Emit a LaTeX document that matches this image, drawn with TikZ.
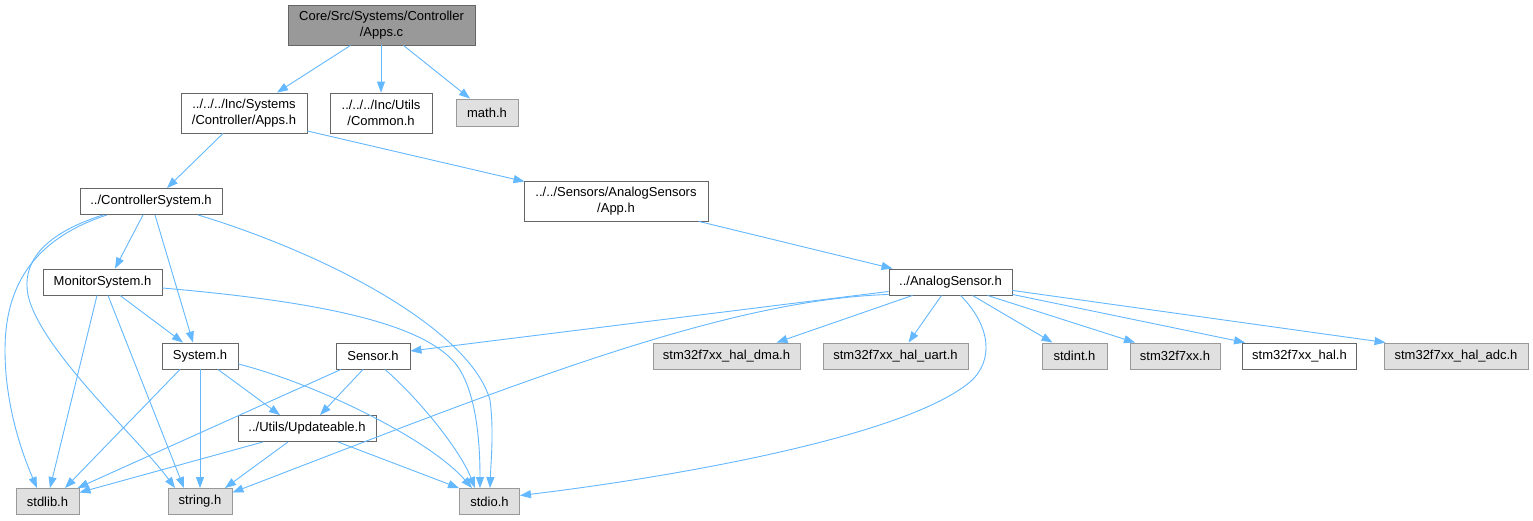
\documentclass[tikz,border=0pt]{standalone}
\usepackage{fontspec}
\setmainfont{Liberation Sans}
\usetikzlibrary{arrows.meta,calc}
\definecolor{edgec}{HTML}{63B8FF}
\definecolor{bordw}{HTML}{666666}
\definecolor{bordg}{HTML}{999999}
\definecolor{fillg}{HTML}{E0E0E0}
\definecolor{fillr}{HTML}{999999}
\begin{document}
\begin{tikzpicture}[x=1pt,y=-1pt,
  box/.style={draw=bordw, fill=white, line width=0.9pt, inner sep=0pt, align=center,
    font=\fontsize{13}{16}\selectfont, minimum height=26pt},
  tall/.style={minimum height=40pt},
  gbox/.style={box, draw=bordg, fill=fillg},
  rootbox/.style={box, fill=fillr},
  edge/.style={draw=edgec, line width=0.9pt, -{Triangle[length=11pt,width=8pt]}}]
\useasboundingbox[fill=white] (0,0) rectangle (1533,520);
% nodes
\node[rootbox,tall,minimum width=187pt] (appsc) at (381.5,25) {Core/Src/Systems/Controller\\/Apps.c};
\node[box,tall,minimum width=126pt] (appsh) at (244,113) {../../../Inc/Systems\\/Controller/Apps.h};
\node[box,tall,minimum width=102pt] (common) at (381,113) {../../../Inc/Utils\\/Common.h};
\node[gbox,minimum width=62pt,minimum height=27pt] (math) at (487,112.5) {math.h};
\node[box,minimum width=142pt] (ctrl) at (151,201.5) {../ControllerSystem.h};
\node[box,tall,minimum width=184pt] (apph) at (616,201) {../../Sensors/AnalogSensors\\/App.h};
\node[box,minimum width=119pt] (monitor) at (102.5,282) {MonitorSystem.h};
\node[box,minimum width=123pt] (analog) at (950.5,282) {../AnalogSensor.h};
\node[box,minimum width=76pt] (system) at (200,356) {System.h};
\node[box,minimum width=74pt] (sensor) at (373,356) {Sensor.h};
\node[box,minimum width=138pt] (upd) at (307,428.5) {../Utils/Updateable.h};
\node[gbox,minimum width=63pt] (stdlib) at (47.5,501.5) {stdlib.h};
\node[gbox,minimum width=64pt] (string) at (200,501.5) {string.h};
\node[gbox,minimum width=60pt] (stdio) at (489.5,501.5) {stdio.h};
\node[gbox,minimum width=147pt] (dma) at (726.5,356) {stm32f7xx\_hal\_dma.h};
\node[gbox,minimum width=145pt] (uart) at (895.5,356) {stm32f7xx\_hal\_uart.h};
\node[gbox,minimum width=65pt] (stdint) at (1074.5,356) {stdint.h};
\node[gbox,minimum width=90pt] (f7) at (1175,356) {stm32f7xx.h};
\node[box,minimum width=114pt] (hal) at (1299.5,356) {stm32f7xx\_hal.h};
\node[gbox,minimum width=144pt] (adc) at (1456,356) {stm32f7xx\_hal\_adc.h};
% edges
\draw[edge] ($(appsc.south)+(-31,0)$) -- ($(appsh.north)+(33,0)$);
\draw[edge] ($(appsc.south)+(-0.5,0)$) -- (common.north);
\draw[edge] ($(appsc.south)+(22,0)$) -- ($(math.north)+(-17,0)$);
\draw[edge] ($(appsh.south)+(-21,0)$) -- ($(ctrl.north)+(16,0)$);
\draw[edge] ($(appsh.east)+(0,18)$) -- ($(apph.north west)+(1,1)$);
\draw[edge] ($(ctrl.south)+(-8,0)$) -- ($(monitor.north)+(12.5,0)$);
\draw[edge] ($(ctrl.south)+(4,0)$) -- ($(system.north)+(-7,0)$);
\draw[edge] ($(ctrl.south)+(-44,0)$) .. controls (30,240) and (5,290) .. (5,350)
  .. controls (5,410) and (25,460) .. ($(stdlib.north)+(-10.5,0)$);
\draw[edge] ($(ctrl.south)+(-48,0)$) .. controls (40,235) and (22,265) .. (28,295)
  .. controls (40,350) and (140,440) .. ($(string.north)+(-25,0)$);
\draw[edge] ($(ctrl.south)+(47,0)$) .. controls (330,255) and (470,330) .. (490,400)
  .. controls (494,430) and (491,460) .. ($(stdio.north)+(0.5,0)$);
\draw[edge] ($(monitor.south)+(17.5,0)$) -- ($(system.north)+(-17,0)$);
\draw[edge] ($(monitor.south)+(-5.5,0)$) -- ($(stdlib.north)+(2.5,0)$);
\draw[edge] ($(monitor.south)+(5.5,0)$) -- ($(string.north)+(-16,0)$);
\draw[edge] ($(monitor.east)+(0,6)$) .. controls (300,300) and (430,320) .. (460,370)
  .. controls (478,400) and (480,450) .. ($(stdio.north)+(-9.5,0)$);
\draw[edge] ($(system.south)+(-20,0)$) -- ($(stdlib.north)+(17.5,0)$);
\draw[edge] (system.south) -- (string.north);
\draw[edge] ($(system.south)+(18,0)$) -- ($(upd.north)+(-27,0)$);
\draw[edge] ($(system.east)+(0,8)$) .. controls (320,385) and (430,440) .. ($(stdio.north)+(-17.5,0)$);
\draw[edge] ($(sensor.south)+(-32,0)$) -- ($(stdlib.north east)+(-2,0)$);
\draw[edge] ($(sensor.south)+(-10,0)$) -- ($(upd.north)+(13,0)$);
\draw[edge] ($(sensor.south)+(12,0)$) .. controls (420,400) and (460,450) .. ($(stdio.north)+(-14.5,0)$);
\draw[edge] ($(upd.south)+(-44,0)$) -- ($(stdlib.east)+(0,-9)$);
\draw[edge] ($(upd.south)+(-19,0)$) -- ($(string.north)+(25,0)$);
\draw[edge] ($(upd.south)+(31,0)$) -- (stdio.north west);
\draw[edge] ($(apph.south)+(83,0)$) -- ($(analog.north west)+(4,0)$);
\draw[edge] ($(analog.south west)+(0,-4)$) -- ($(sensor.east)+(0,-5)$);
\draw[edge] ($(analog.south west)+(0,-1)$) .. controls (720,300) and (500,390) .. ($(string.east)+(0,-9)$);
\draw[edge] ($(analog.south)+(-38,0)$) -- ($(dma.north)+(50,0)$);
\draw[edge] ($(analog.south)+(-9,0)$) -- ($(uart.north)+(13,0)$);
\draw[edge] ($(analog.south)+(10,0)$) .. controls (990,325) and (995,360) .. (970,382)
  .. controls (900,440) and (650,480) .. ($(stdio.east)+(0,-6)$);
\draw[edge] ($(analog.south)+(22,0)$) -- ($(stdint.north)+(-22,0)$);
\draw[edge] ($(analog.south)+(37,0)$) -- ($(f7.north)+(-40,0)$);
\draw[edge] ($(analog.south east)+(0,-1)$) -- ($(hal.north west)+(3,0)$);
\draw[edge] ($(analog.south east)+(0,-5)$) -- ($(adc.north west)+(2,0)$);
\end{tikzpicture}
\end{document}
